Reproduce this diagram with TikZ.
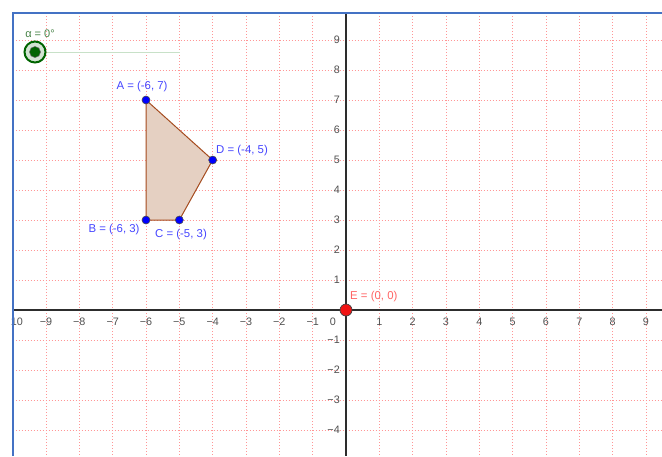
\documentclass[tikz,border=0pt]{standalone}
\usepackage{fontspec}
\setmainfont{Liberation Sans}
\definecolor{gridc}{RGB}{255,150,150}
\definecolor{framec}{RGB}{68,114,196}
\definecolor{axisc}{RGB}{45,45,45}
\definecolor{tickc}{RGB}{80,80,80}
\definecolor{polyfill}{RGB}{229,208,194}
\definecolor{polyedge}{RGB}{165,75,30}
\definecolor{ptblue}{RGB}{0,0,255}
\definecolor{lblblue}{RGB}{70,70,255}
\definecolor{ered}{RGB}{240,20,20}
\definecolor{elbl}{RGB}{255,100,100}
\definecolor{sgreen}{RGB}{0,100,0}
\definecolor{slbl}{RGB}{70,130,70}
\definecolor{sline}{RGB}{200,225,200}
\definecolor{sring}{RGB}{210,228,210}
\tikzset{
  gridline/.style={gridc, line width=0.9pt, dash pattern=on 1.1pt off 1.9pt},
  axisline/.style={axisc, line width=1.1pt},
  tick/.style={tickc, font=\fontsize{10.8}{12}\selectfont, inner sep=0pt},
  vertex/.style={circle, fill=ptblue, draw=black!70, line width=0.6pt, minimum size=8pt, inner sep=0pt},
  vlabel/.style={lblblue, font=\fontsize{11.4}{13}\selectfont, inner sep=0pt},
  epoint/.style={circle, fill=ered, draw=black!75, line width=0.7pt, minimum size=12pt, inner sep=0pt},
}
\begin{document}
\begin{tikzpicture}[x=1pt,y=-1pt]
\useasboundingbox (0,0) rectangle (662,456);
\fill[white] (0,0) rectangle (662,456);
% grid
\begin{scope}
\clip (12.5,13) rectangle (662,456);
\foreach \i in {-10,...,9} \draw[gridline] ({346+33.333*\i},13) -- ({346+33.333*\i},456);
\foreach \j in {-4,...,9} \draw[gridline] (12.5,{310-30*\j}) -- (662,{310-30*\j});
\end{scope}
% axes
\coordinate (xl) at (12.5,310);
\coordinate (xr) at (662,310);
\coordinate (yt) at (346,13);
\coordinate (yb) at (346,456);
\draw[axisline] (xl) -- (xr);
\draw[axisline] (yt) -- (yb);
% tick labels x
\node[tick] (xm10) at (17,322) {10};
\foreach \i in {-9,...,-1} \node[tick] (xt\i) at ({346+33.333*\i},322) {−\the\numexpr-\i\relax};
\node[tick] (x0) at (333,322) {0};
\foreach \i in {1,...,9} \node[tick] (xt\i) at ({346+33.333*\i},322) {\i};
% tick labels y
\foreach \j in {1,...,9} \node[tick, anchor=east] (yt\j) at (340,{310-30*\j}) {\j};
\foreach \j in {-4,...,-1} \node[tick, anchor=east] (yt\j) at (340,{310-30*\j}) {−\the\numexpr-\j\relax};
% frame
\coordinate (fb) at (12.5,456);
\coordinate (ftl) at (12.5,13);
\coordinate (ftr) at (662,13);
\draw[framec, line width=2pt] (fb) -- (ftl) -- (ftr);
% polygon
\coordinate (pA) at ({346-6*33.333},{310-7*30});
\coordinate (pB) at ({346-6*33.333},{310-3*30});
\coordinate (pC) at ({346-5*33.333},{310-3*30});
\coordinate (pD) at ({346-4*33.333},{310-5*30});
\fill[polyfill] (pA) -- (pB) -- (pC) -- (pD) -- cycle;
\draw[polyedge, line width=1pt, line join=round] (pA) -- (pB) -- (pC) -- (pD) -- cycle;
\node[vertex] (A) at (pA) {};
\node[vertex] (B) at (pB) {};
\node[vertex] (C) at (pC) {};
\node[vertex] (D) at (pD) {};
\node[vlabel] (Al) at (142,87) {A = (-6, 7)};
\node[vlabel, anchor=west] (Dl) at (216,151) {D = (-4, 5)};
\node[vlabel] (Bl) at (114,230) {B = (-6, 3)};
\node[vlabel] (Cl) at (181,235) {C = (-5, 3)};
% point E
\node[epoint] (E) at (346,310) {};
\node[elbl, font=\fontsize{11.4}{13}\selectfont, inner sep=0pt, anchor=west] (El) at (350,297) {E = (0, 0)};
% slider
\coordinate (send) at (180,52);
\node[circle, fill=sring, draw=sgreen, line width=2pt, minimum size=21pt, inner sep=0pt] (S) at (35,52) {};
\draw[sline, line width=1pt] (S.east) -- (send);
\node[circle, fill=sgreen, draw=black!60, line width=0.5pt, minimum size=11pt, inner sep=0pt] (Sd) at (S) {};
\node[slbl, font=\fontsize{11}{13}\selectfont, inner sep=0pt] (Sl) at (40,34) {α = 0°};
\end{tikzpicture}
\end{document}
